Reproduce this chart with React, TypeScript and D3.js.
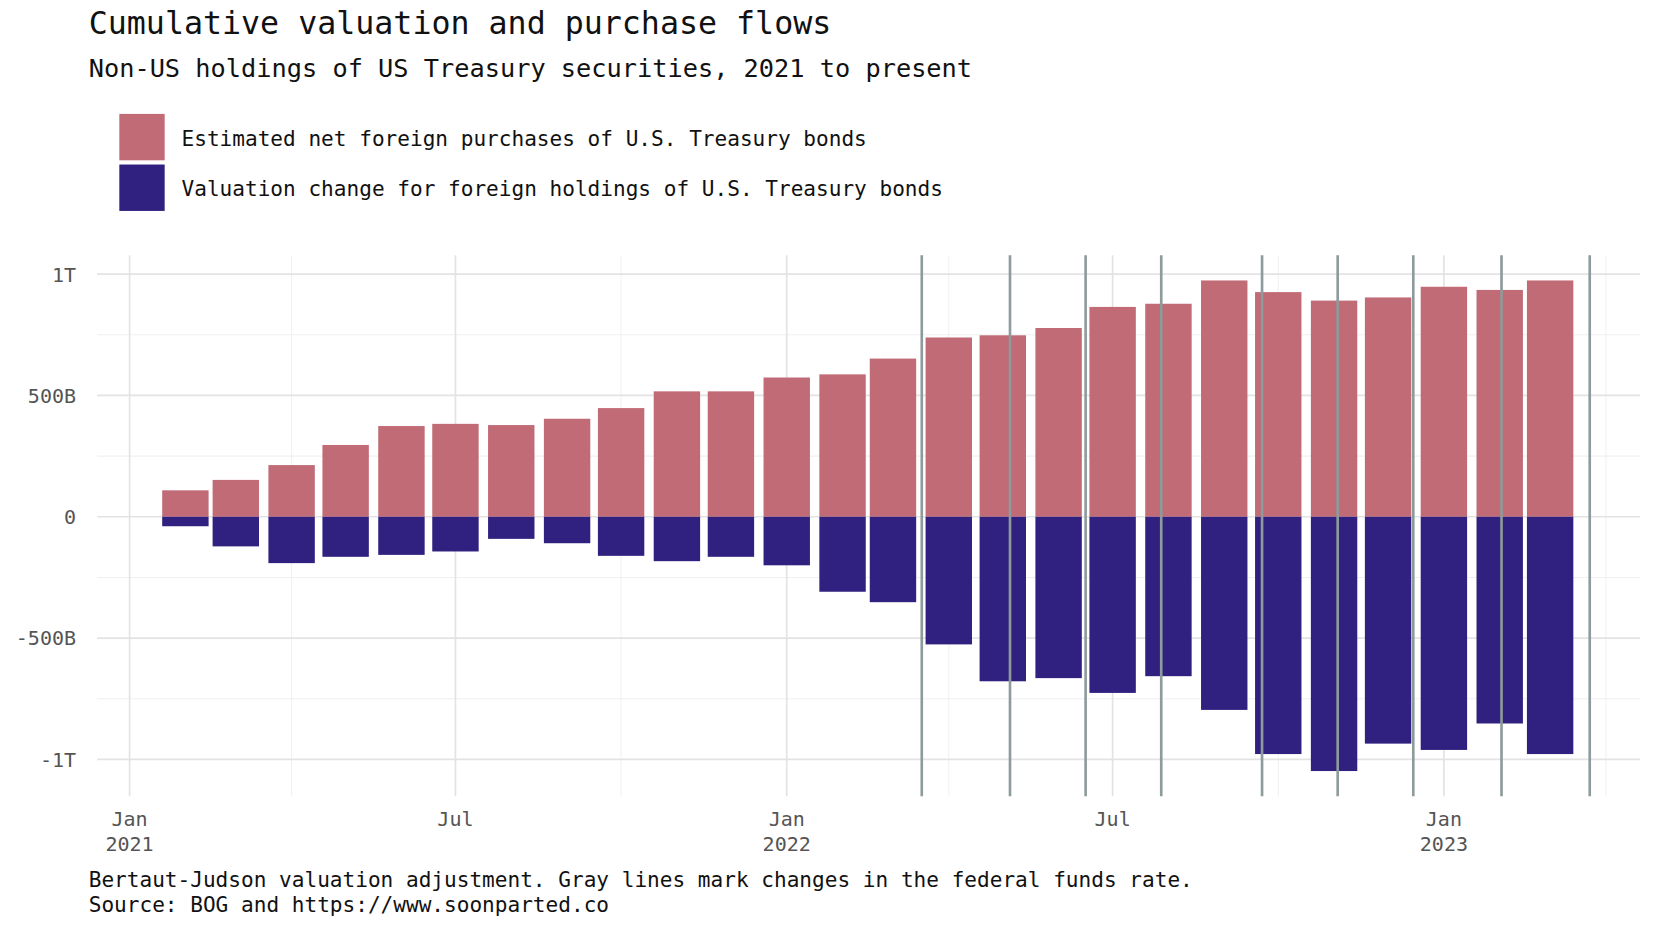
import React from 'react';
import * as d3 from 'd3';

const months = [
  '2021-02', '2021-03', '2021-04', '2021-05', '2021-06', '2021-07', '2021-08', '2021-09', '2021-10', '2021-11', '2021-12',
  '2022-01', '2022-02', '2022-03', '2022-04', '2022-05', '2022-06', '2022-07', '2022-08', '2022-09', '2022-10', '2022-11', '2022-12',
  '2023-01', '2023-02', '2023-03',
];
// billions USD
const purchases = [109, 152, 213, 296, 374, 383, 378, 404, 448, 517, 517, 574, 587, 652, 739, 748, 778, 865, 878, 974, 926, 891, 904, 948, 935, 974];
const valuation = [-39, -122, -191, -165, -157, -143, -91, -109, -161, -183, -165, -200, -309, -352, -526, -678, -665, -726, -657, -796, -978, -1048, -935, -961, -852, -978];
const rateChanges = ['2022-03-17', '2022-05-05', '2022-06-16', '2022-07-28', '2022-09-22', '2022-11-03', '2022-12-15', '2023-02-02', '2023-03-23'];
const yTicks = [-1000, -500, 0, 500, 1000];
const yTickLabels = ['-1T', '-500B', '0', '500B', '1T'];

const parse = d3.timeParse('%Y-%m-%d');
const W = 1568, H = 878;
const FONT = '"DejaVu Sans Mono", monospace';
const PINK = '#c06b76', NAVY = '#30207f';

export default function App() {
  const x = d3.scaleTime()
    .domain([parse('2020-12-14')!, parse('2023-04-20')!])
    .range([92, 1555]);
  const y = d3.scaleLinear().domain([-1152, 1078]).range([755, 242]);
  const bw = 44;
  const majorX = d3.timeMonth.every(6)!.range(parse('2021-01-01')!, parse('2023-04-02')!);
  const minorX = d3.timeMonth.every(3)!.range(parse('2021-01-01')!, parse('2023-04-02')!)
    .filter(d => d.getMonth() % 6 !== 0);
  const minorY = [-750, -250, 250, 750];
  const fmtMonth = d3.timeFormat('%b');

  return (
    <div style={{ position: 'absolute', left: 0, top: 0, background: '#fff' }}>
      <svg width={1654} height={926} viewBox={`0 0 ${W} ${H}`} style={{ display: 'block' }} fontFamily={FONT}>
        <rect width={W} height={H} fill="#fff" />
        <text x={84} y={32} fontSize={30} fill="#111">Cumulative valuation and purchase flows</text>
        <text x={84} y={73} fontSize={24} fill="#111">Non-US holdings of US Treasury securities, 2021 to present</text>
        <rect x={113} y={108} width={43} height={44} fill={PINK} />
        <rect x={113} y={156} width={43} height={44} fill={NAVY} />
        <text x={172} y={138} fontSize={20} fill="#111">Estimated net foreign purchases of U.S. Treasury bonds</text>
        <text x={172} y={186} fontSize={20} fill="#111">Valuation change for foreign holdings of U.S. Treasury bonds</text>

        {minorY.map(v => <line key={v} x1={92} x2={1555} y1={y(v)} y2={y(v)} stroke="#f0f0f0" strokeWidth={1} />)}
        {minorX.map((d, i) => <line key={i} x1={x(d)} x2={x(d)} y1={242} y2={755} stroke="#f0f0f0" strokeWidth={1} />)}
        {yTicks.map(v => <line key={v} x1={92} x2={1555} y1={y(v)} y2={y(v)} stroke="#e3e3e3" strokeWidth={1.6} />)}
        {majorX.map((d, i) => <line key={i} x1={x(d)} x2={x(d)} y1={242} y2={755} stroke="#e3e3e3" strokeWidth={1.6} />)}

        {months.map((m, i) => {
          const cx = x(parse(m + '-01')!);
          return (
            <g key={m}>
              <rect x={cx - bw / 2} y={y(purchases[i])} width={bw} height={y(0) - y(purchases[i])} fill={PINK} />
              <rect x={cx - bw / 2} y={y(0)} width={bw} height={y(valuation[i]) - y(0)} fill={NAVY} />
            </g>
          );
        })}

        {rateChanges.map(d => <line key={d} x1={x(parse(d)!)} x2={x(parse(d)!)} y1={242} y2={755} stroke="#8e9a9b" strokeWidth={2.5} />)}

        {yTicks.map((v, i) => (
          <text key={v} x={72} y={y(v) + 7} fontSize={19} fill="#555" textAnchor="end">{yTickLabels[i]}</text>
        ))}
        {majorX.map((d, i) => (
          <text key={i} x={x(d)} y={783} fontSize={19} fill="#555" textAnchor="middle">
            {fmtMonth(d)}
            {d.getMonth() === 0 && <tspan x={x(d)} dy={24}>{d.getFullYear()}</tspan>}
          </text>
        ))}

        <text x={84} y={841} fontSize={20} fill="#111">Bertaut-Judson valuation adjustment. Gray lines mark changes in the federal funds rate.</text>
        <text x={84} y={865} fontSize={20} fill="#111">Source: BOG and https://www.soonparted.co</text>
      </svg>
    </div>
  );
}
